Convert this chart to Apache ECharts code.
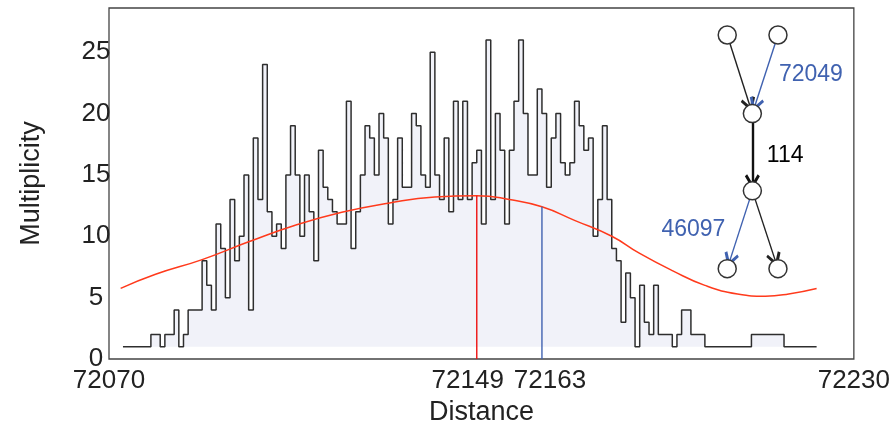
<!DOCTYPE html>
<html lang="en">
<head>
  <meta charset="UTF-8">
  <title>Multiplicity by distance</title>
  <style>
    html,
    body {
      padding: 0;
      margin: 0;
    }
  </style>
  <script src="https://cdn.jsdelivr.net/npm/echarts@6.0.0/dist/echarts.min.js"></script>
</head>
<body>
  <div id="demo" style="width:893px;height:431px"></div>
  <script>
    // histogram: one bin per unit of distance, starting here
    const binStart = 72073
    const multiplicity = [
      1, 1, 1, 1, 1, 1, 2, 2, 1, 2, 2, 4, 1, 2, 4, 4, 4, 8, 6, 4,
      11, 9, 5, 13, 8, 10, 15, 4, 18, 13, 24, 12, 10, 11, 9, 15, 19, 15, 10, 15,
      12, 8, 17, 14, 13, 12, 11, 11, 21, 9, 12, 15, 19, 18, 15, 20, 18, 11, 13, 18,
      14, 14, 20, 19, 15, 14, 25, 15, 13, 18, 12, 21, 13, 21, 13, 16, 17, 11, 26, 13,
      20, 17, 11, 17, 21, 26, 20, 15, 15, 22, 20, 14, 18, 20, 16, 15, 16, 21, 19, 17,
      18, 10, 13, 19, 13, 9, 8, 3, 7, 5, 1, 6, 3, 2, 6, 2, 2, 2, 1, 2,
      4, 4, 2, 2, 2, 1, 1, 1, 1, 1, 1, 1, 1, 1, 1, 2, 2, 2, 2, 2,
      2, 2, 1, 1, 1, 1, 1, 1, 1
    ]
    // fitted curve
    const fitX = [72072.5, 72080, 72090, 72100, 72110, 72120, 72130, 72140, 72149, 72156,
      72163, 72170, 72178, 72184, 72191, 72198, 72205, 72211, 72216, 72222]
    const fitY = [5.75, 6.9, 8.1, 9.55, 10.9, 11.95, 12.7, 13.2, 13.3, 13.0,
      12.4, 11.3, 10.0, 8.6, 7.2, 6.0, 5.3, 5.12, 5.3, 5.75]
    const bestDistance = 72149
    const bestValue = 13.3
    const trueDistance = 72163
    const trueValue = 12.4
    const xTickLabels = [72070, 72149, 72163, 72230]
    const edgeTexts = ['72049', '114', '46097']

    const histData = multiplicity.map((v, i) => [binStart + i, v])
    histData.push([binStart + multiplicity.length, multiplicity[multiplicity.length - 1]])

    const textColor = '#222'
    const blue = '#4062b0'
    // open "V" arrow head, tip at the top
    const chevron = 'path://M5,0 L10,7 L8.5,8 L5,3.3 L1.5,8 L0,7 Z'

    // inset tree drawn in axis units
    const nodes = [
      { name: 'tl', value: [72202.8, 26.4] },
      { name: 'tr', value: [72213.7, 26.4] },
      { name: 'm1', value: [72208.2, 20.0] },
      { name: 'm2', value: [72208.2, 13.7] },
      { name: 'bl', value: [72202.8, 7.36] },
      { name: 'br', value: [72213.7, 7.36] }
    ]
    const links = [
      { source: 'tl', target: 'm1', lineStyle: { color: '#222', width: 1.4 } },
      { source: 'tr', target: 'm1', lineStyle: { color: blue, width: 1.4 } },
      { source: 'm1', target: 'm2', lineStyle: { color: '#111', width: 2.4 } },
      { source: 'm2', target: 'bl', lineStyle: { color: blue, width: 1.4 } },
      { source: 'm2', target: 'br', lineStyle: { color: '#222', width: 1.4 } }
    ]
    const labelPoints = [
      { value: [72213.9, 23.2], label: { position: 'right', color: blue } },
      { value: [72211.3, 16.6], label: { position: 'right', color: '#000' } },
      { value: [72202.4, 10.55], label: { position: 'left', color: blue } }
    ].map((p, i) => Object.assign(p, { name: edgeTexts[i] }))

    const chart = echarts.init(document.getElementById('demo'))
    chart.setOption({
      animation: false,
      textStyle: { fontFamily: 'Liberation Sans, Arial, sans-serif' },
      grid: {
        left: 109,
        right: 39,
        top: 8,
        bottom: 71,
        show: true,
        borderColor: '#444',
        borderWidth: 1.3
      },
      xAxis: {
        type: 'value',
        min: 72070,
        max: 72230,
        name: 'Distance',
        nameLocation: 'middle',
        nameGap: 40,
        nameTextStyle: { fontSize: 27, color: textColor },
        axisLine: { show: false },
        axisTick: { show: false },
        splitLine: { show: false },
        axisLabel: {
          customValues: xTickLabels,
          fontSize: 26,
          color: textColor,
          margin: 9,
          formatter: v => {
            if (v === bestDistance) return '{l|' + v + '}'
            if (v === trueDistance) return '{r|' + v + '}'
            return '{n|' + v + '}'
          },
          rich: {
            n: { fontSize: 26, color: textColor },
            l: { fontSize: 26, color: textColor, padding: [0, 18, 0, 0] },
            r: { fontSize: 26, color: textColor, padding: [0, 0, 0, 16] }
          }
        }
      },
      yAxis: {
        type: 'value',
        min: 0,
        max: 28.6,
        interval: 5,
        name: 'Multiplicity',
        nameLocation: 'middle',
        nameGap: 64,
        nameTextStyle: { fontSize: 27, color: textColor },
        axisLine: { show: false },
        axisTick: { show: false },
        splitLine: { show: false },
        axisLabel: {
          fontSize: 26,
          color: textColor,
          align: 'center',
          margin: 13,
          showMaxLabel: false
        }
      },
      series: [
        {
          type: 'line',
          data: histData,
          step: 'end',
          showSymbol: false,
          lineStyle: { color: '#2e2e2e', width: 1.5 },
          areaStyle: { color: '#f1f2f9', opacity: 1, origin: 1 },
          z: 2
        },
        {
          type: 'line',
          data: fitX.map((x, i) => [x, fitY[i]]),
          smooth: true,
          showSymbol: false,
          lineStyle: { color: '#ff3a1c', width: 1.5 },
          z: 3
        },
        {
          type: 'line',
          data: [[bestDistance, 0], [bestDistance, bestValue]],
          showSymbol: false,
          lineStyle: { color: '#ee1111', width: 1.4 },
          z: 4
        },
        {
          type: 'line',
          data: [[trueDistance, 0], [trueDistance, trueValue]],
          showSymbol: false,
          lineStyle: { color: blue, width: 1.4 },
          z: 4
        },
        {
          type: 'graph',
          layout: 'none',
          coordinateSystem: 'cartesian2d',
          symbol: 'circle',
          symbolSize: 18,
          itemStyle: { color: '#fff', borderColor: '#333', borderWidth: 1.5, opacity: 1 },
          lineStyle: { opacity: 1 },
          edgeSymbol: ['none', chevron],
          edgeSymbolSize: [0, 15],
          label: { show: false },
          data: nodes,
          links: links,
          z: 5
        },
        {
          type: 'scatter',
          symbolSize: 0,
          data: labelPoints,
          itemStyle: { opacity: 1 },
          label: {
            show: true,
            distance: 0,
            fontSize: 23,
            opacity: 1,
            formatter: p => p.name
          },
          z: 6
        }
      ]
    })
  </script>
</body>
</html>
